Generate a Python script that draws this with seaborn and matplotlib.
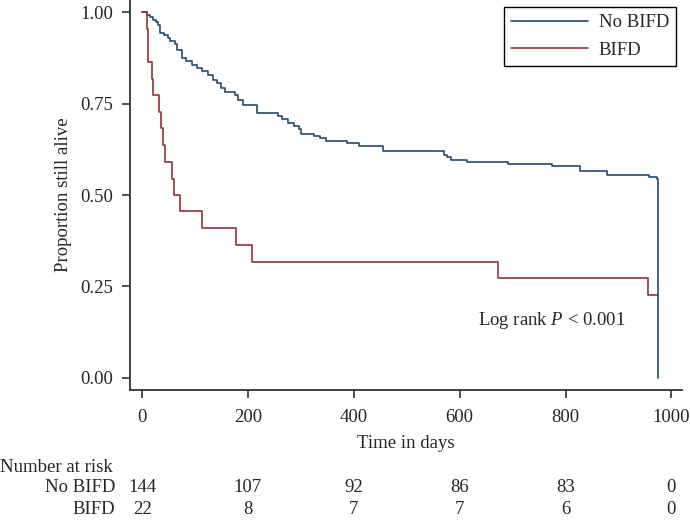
import numpy as np
import pandas as pd
import seaborn as sns
import matplotlib.pyplot as plt
from matplotlib.lines import Line2D
from matplotlib.transforms import blended_transform_factory

# --------------------------------------------------
# DATA
# --------------------------------------------------
no_bifd_days = [0, 9, 15, 21, 26, 31, 34, 42, 50, 53, 62, 67, 75, 84, 94, 103,
                113, 125, 135, 141, 149, 156, 176, 182, 190, 218, 256, 265, 276,
                288, 297, 300, 325, 336, 348, 388, 410, 455, 570, 577, 583, 613,
                691, 775, 828, 879, 958, 972, 975]
no_bifd_surv = [1.0, 0.993, 0.986, 0.979, 0.972, 0.965, 0.944, 0.937, 0.930,
                0.920, 0.913, 0.897, 0.875, 0.867, 0.856, 0.847, 0.838, 0.827,
                0.815, 0.806, 0.793, 0.781, 0.774, 0.760, 0.746, 0.725, 0.716,
                0.707, 0.698, 0.689, 0.680, 0.668, 0.661, 0.655, 0.648, 0.641,
                0.634, 0.620, 0.609, 0.604, 0.597, 0.591, 0.585, 0.578, 0.565,
                0.556, 0.550, 0.545, 0.0]

bifd_days = [0, 9, 11, 18, 21, 33, 36, 39, 43, 57, 61, 72, 114, 178, 207, 672,
             955, 975]
bifd_surv = [1.0, 0.955, 0.864, 0.818, 0.773, 0.727, 0.682, 0.636, 0.591,
             0.545, 0.500, 0.455, 0.409, 0.364, 0.318, 0.273, 0.227, 0.227]

groups = ["No BIFD", "BIFD"]
risk_days = [0, 200, 400, 600, 800, 1000]
risk_no_bifd = [144, 107, 92, 86, 83, 0]
risk_bifd = [22, 8, 7, 7, 6, 0]

colors = {"No BIFD": "#27496d", "BIFD": "#90353b"}

df = pd.concat([
    pd.DataFrame({"day": no_bifd_days, "surv": no_bifd_surv, "group": "No BIFD"}),
    pd.DataFrame({"day": bifd_days, "surv": bifd_surv, "group": "BIFD"}),
])

# --------------------------------------------------
# STYLE
# --------------------------------------------------
sns.set_style("ticks")
plt.rcParams["font.family"] = ["Liberation Serif", "DejaVu Serif"]
plt.rcParams["mathtext.fontset"] = "custom"
plt.rcParams["mathtext.rm"] = "Liberation Serif"
plt.rcParams["mathtext.it"] = "Liberation Serif:italic"
fs = 13.5

fig = plt.figure(figsize=(6.9, 5.2), dpi=100)
ax = fig.add_axes([130 / 690, 1 - 390 / 520, 552 / 690, 390 / 520])

sns.lineplot(data=df, x="day", y="surv", hue="group", palette=colors,
             estimator=None, sort=False, drawstyle="steps-post",
             linewidth=1.2, legend=False, ax=ax)

ax.set_xlim(-22.7, 1020)
ax.set_ylim(-0.033, 1.033)
ax.set_xticks(risk_days)
ax.set_yticks([0, 0.25, 0.5, 0.75, 1.0])
ax.set_yticklabels([f"{v:.2f}" for v in [0, 0.25, 0.5, 0.75, 1.0]])
ax.tick_params(labelsize=fs, length=6, width=1.2, color="#333333")
ax.tick_params(axis="x", pad=8)
ax.tick_params(axis="y", pad=6)
for side in ["top", "right"]:
    ax.spines[side].set_visible(False)
for side in ["left", "bottom"]:
    ax.spines[side].set_linewidth(1.3)
    ax.spines[side].set_color("#333333")

ax.set_xlabel("Time in days", fontsize=fs)
ax.set_ylabel("Proportion still alive", fontsize=fs)
ax.xaxis.set_label_coords(0.5, -0.115)
ax.yaxis.set_label_coords(-0.105, 0.5)

handles = [Line2D([], [], color=colors[g], linewidth=1.2) for g in groups]
ax.legend(handles, groups, loc="upper right", bbox_to_anchor=(0.99, 0.983),
          borderaxespad=0, fontsize=fs, frameon=True, fancybox=False,
          edgecolor="black", framealpha=1, handlelength=4.1, handletextpad=0.55,
          borderpad=0.4, labelspacing=0.55)
ax.get_legend().get_frame().set_linewidth(1.0)

ax.text(635, 0.158, r"Log rank $P$ < 0.001", fontsize=fs, va="center")

# --------------------------------------------------
# NUMBER AT RISK TABLE
# --------------------------------------------------
tr = blended_transform_factory(ax.transData, fig.transFigure)
fig.text(0.0, 1 - 467 / 520, "Number at risk", fontsize=fs, va="center")
fig.text(115 / 690, 1 - 488 / 520, "No BIFD", fontsize=fs, va="center", ha="right")
fig.text(115 / 690, 1 - 509 / 520, "BIFD", fontsize=fs, va="center", ha="right")
for d, a, b in zip(risk_days, risk_no_bifd, risk_bifd):
    ax.text(d, 1 - 488 / 520, str(a), transform=tr, fontsize=fs, ha="center", va="center")
    ax.text(d, 1 - 509 / 520, str(b), transform=tr, fontsize=fs, ha="center", va="center")

fig.savefig("out.png", dpi=100)
